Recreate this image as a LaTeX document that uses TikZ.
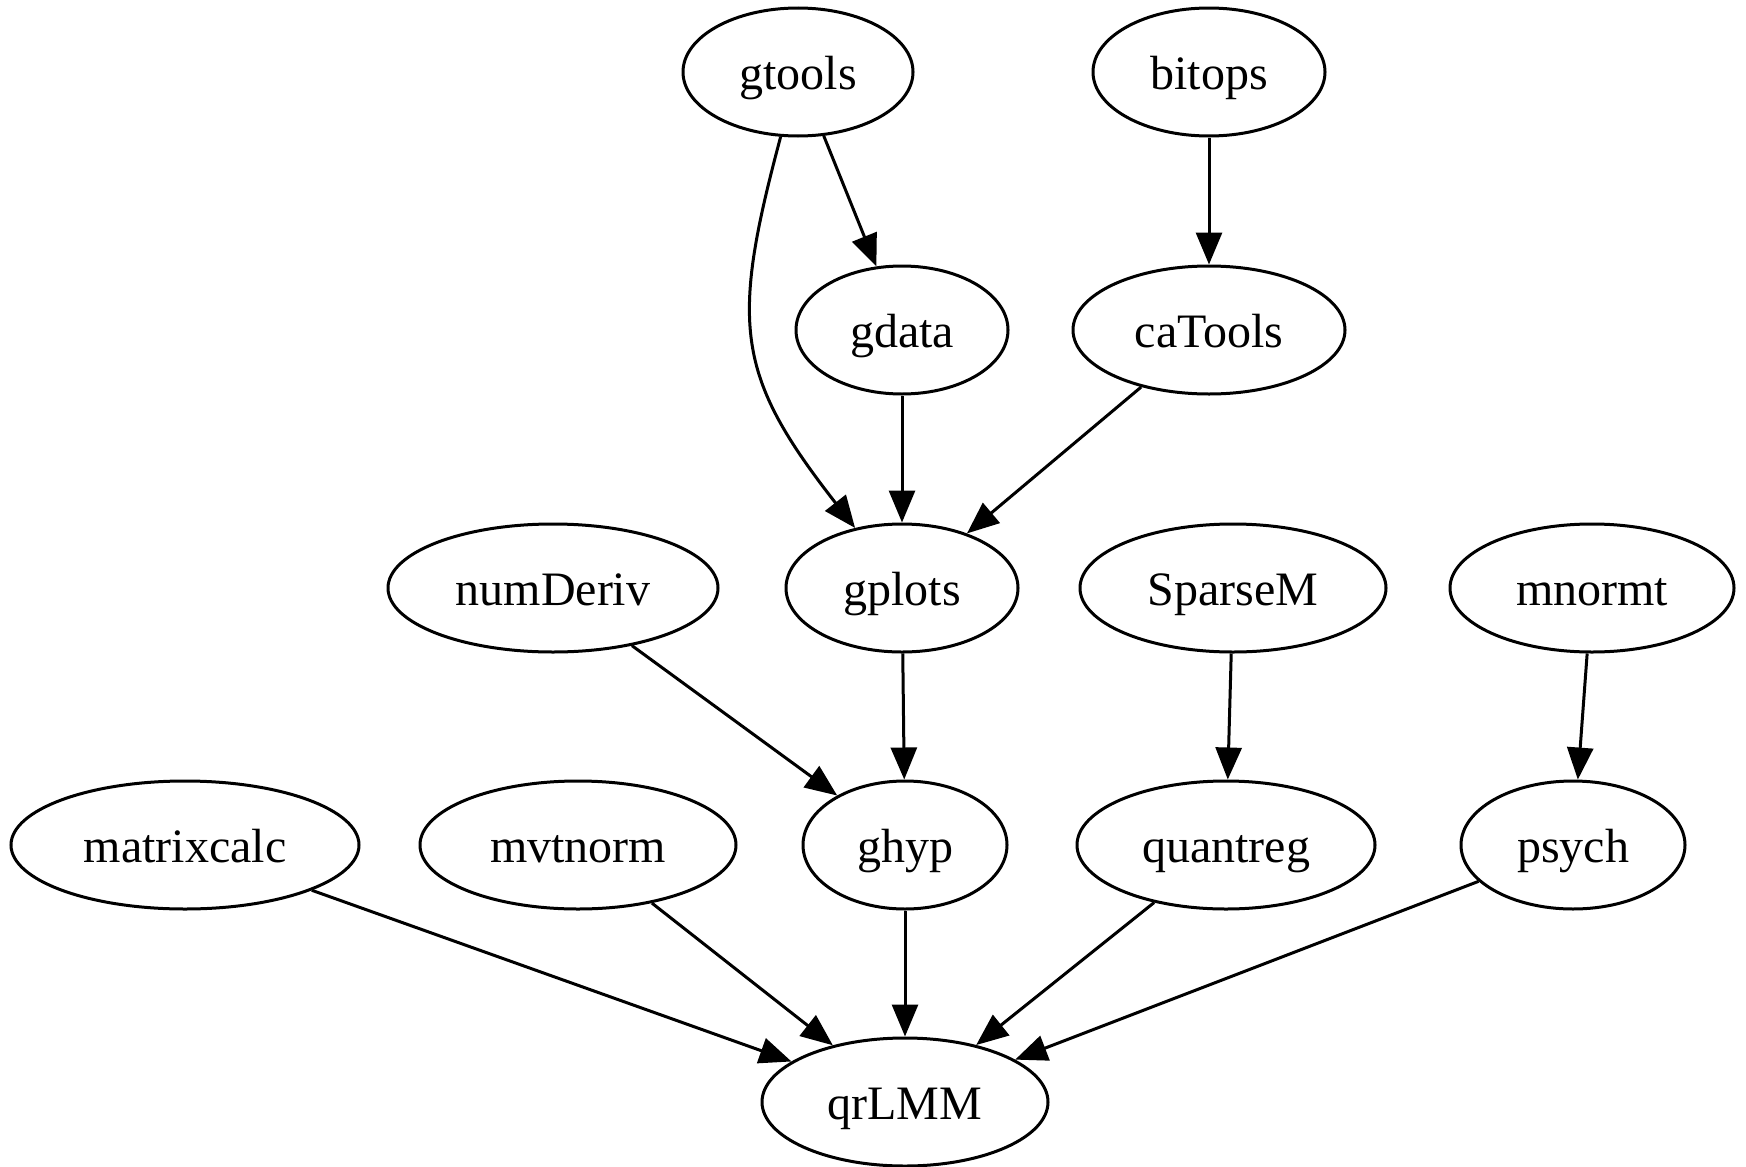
\documentclass[tikz,border=0pt]{standalone}
\usepackage{fontspec}
\setmainfont{Liberation Serif}
\usetikzlibrary{arrows.meta,shapes.geometric}
\tikzset{
  pkg/.style={ellipse,draw,line width=1.5pt,inner sep=0pt,minimum height=64pt,text height=22pt,text depth=5pt,font=\fontsize{24}{28}\selectfont},
  dep/.style={line width=1.5pt,-{Triangle[length=16pt,width=13pt]}}
}
\begin{document}
\begin{tikzpicture}[x=0.5pt,y=-0.5pt]
\useasboundingbox (0,0) rectangle (1746,1167);
\node[pkg,minimum width=115pt] (gtools) at (798,72) {gtools};
\node[pkg,minimum width=116pt] (bitops) at (1209,72) {bitops};
\node[pkg,minimum width=106pt] (gdata) at (902,330) {gdata};
\node[pkg,minimum width=136pt] (caTools) at (1209,330) {caTools};
\node[pkg,minimum width=165pt] (numDeriv) at (553,588) {numDeriv};
\node[pkg,minimum width=116pt] (gplots) at (902,588) {gplots};
\node[pkg,minimum width=153pt] (SparseM) at (1233,588) {SparseM};
\node[pkg,minimum width=142pt] (mnormt) at (1592,588) {mnormt};
\node[pkg,minimum width=174pt] (matrixcalc) at (185,845) {matrixcalc};
\node[pkg,minimum width=158pt] (mvtnorm) at (578,845) {mvtnorm};
\node[pkg,minimum width=102pt] (ghyp) at (905,845) {ghyp};
\node[pkg,minimum width=149pt] (quantreg) at (1226,845) {quantreg};
\node[pkg,minimum width=112pt] (psych) at (1573,845) {psych};
\node[pkg,minimum width=143pt] (qrLMM) at (905,1102) {qrLMM};

\draw[dep] (gtools) to[out=-105,in=128,looseness=1.25] (gplots);
\draw[dep] (gtools) -- (gdata);
\draw[dep] (bitops) -- (caTools);
\draw[dep] (gdata) -- (gplots);
\draw[dep] (caTools) -- (gplots);
\draw[dep] (numDeriv) -- (ghyp);
\draw[dep] (gplots) -- (ghyp);
\draw[dep] (SparseM) -- (quantreg);
\draw[dep] (mnormt) -- (psych);
\draw[dep] (matrixcalc) -- (qrLMM);
\draw[dep] (mvtnorm) -- (qrLMM);
\draw[dep] (ghyp) -- (qrLMM);
\draw[dep] (quantreg) -- (qrLMM);
\draw[dep] (psych) -- (qrLMM);
\end{tikzpicture}
\end{document}
